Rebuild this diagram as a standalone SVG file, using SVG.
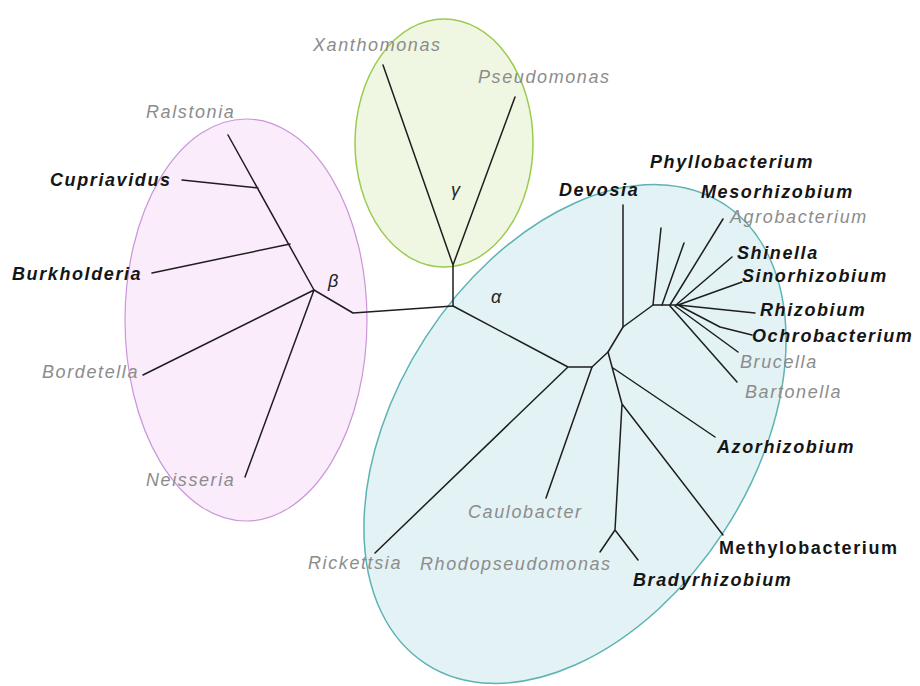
<svg xmlns="http://www.w3.org/2000/svg" width="920" height="686" viewBox="0 0 920 686">
<style>
.bg{fill:#ffffff}
.cl-a{fill:#e3f2f4;stroke:#5db3b3;stroke-width:1.5}
.cl-b{fill:#fbecfc;stroke:#c996d8;stroke-width:1.2}
.cl-g{fill:#eff6e2;stroke:#9acb4e;stroke-width:1.5}
.br{fill:none;stroke:#1e1e1e;stroke-width:1.5;stroke-linejoin:round;stroke-linecap:round}
text{font-family:"Liberation Sans",Arial,sans-serif;font-size:18px;letter-spacing:1.6px}
.k{font-weight:bold;font-style:italic;fill:#151515}
.ku{font-weight:bold;fill:#151515}
.g{font-style:italic;fill:#8c8c8c}
.gr{font-style:italic;fill:#222;font-size:18px;letter-spacing:0}
</style>
<rect class="bg" width="920" height="686"/>
<g id="clusters">
<ellipse id="beta-cluster" class="cl-b" cx="246" cy="320" rx="121" ry="201"/>
<ellipse id="gamma-cluster" class="cl-g" cx="444" cy="143" rx="89" ry="124"/>
<ellipse id="alpha-cluster" class="cl-a" cx="0" cy="0" rx="274" ry="178" transform="translate(575 434) rotate(-57)"/>
</g>
<g id="connectors" class="br">
<path d="M453 306 L453 265 M453 265 L383 65 M453 265 L515 97"/>
<path d="M453 306 L353 313 L314 290"/>
<path d="M314 290 L228 135 M290 244 L152 273 M258 188 L182 180 M314 290 L143 375 M314 290 L245 477"/>
<path d="M453 306 L568 367 L592 367 M568 367 L375 553 M592 367 L546 498"/>
<path d="M592 367 L608 352 L623 327 L623 205"/>
<path d="M623 327 L653 305 L678 305"/>
<path d="M653 305 L661 228 M662 305 L684 243 M670 305 L723 219 M676 305 L732 257 M678 305 L742 282 M678 305 L755 313 M678 305 L720 327 L752 335 M675 306 L738 352 M670 306 L737 382"/>
<path d="M608 352 L622 404 L615 530 M613 368 L715 437 M622 404 L723 535 M615 530 L600 552 M615 530 L638 560"/>
</g>
<g id="label-alpha"><text class="gr" x="491" y="303">α</text></g>
<g id="label-beta"><text class="gr" x="328" y="287">β</text></g>
<g id="label-gamma"><text class="gr" x="451" y="196">γ</text></g>
<g id="n-xanthomonas"><text class="g" x="313" y="51">Xanthomonas</text></g>
<g id="n-pseudomonas"><text class="g" x="478" y="83">Pseudomonas</text></g>
<g id="n-ralstonia"><text class="g" x="146" y="118">Ralstonia</text></g>
<g id="n-cupriavidus"><text class="k" x="50" y="186">Cupriavidus</text></g>
<g id="n-burkholderia"><text class="k" x="12" y="280">Burkholderia</text></g>
<g id="n-bordetella"><text class="g" x="42" y="378">Bordetella</text></g>
<g id="n-neisseria"><text class="g" x="146" y="486">Neisseria</text></g>
<g id="n-devosia"><text class="k" x="559" y="196">Devosia</text></g>
<g id="n-phyllobacterium"><text class="k" x="650" y="168">Phyllobacterium</text></g>
<g id="n-mesorhizobium"><text class="k" x="701" y="198">Mesorhizobium</text></g>
<g id="n-agrobacterium"><text class="g" x="730" y="223">Agrobacterium</text></g>
<g id="n-shinella"><text class="k" x="737" y="259">Shinella</text></g>
<g id="n-sinorhizobium"><text class="k" x="742" y="282">Sinorhizobium</text></g>
<g id="n-rhizobium"><text class="k" x="760" y="316">Rhizobium</text></g>
<g id="n-ochrobacterium"><text class="k" x="752" y="342">Ochrobacterium</text></g>
<g id="n-brucella"><text class="g" x="740" y="368">Brucella</text></g>
<g id="n-bartonella"><text class="g" x="745" y="398">Bartonella</text></g>
<g id="n-azorhizobium"><text class="k" x="717" y="453">Azorhizobium</text></g>
<g id="n-caulobacter"><text class="g" x="468" y="518">Caulobacter</text></g>
<g id="n-rickettsia"><text class="g" x="308" y="569">Rickettsia</text></g>
<g id="n-rhodopseudomonas"><text class="g" x="420" y="570">Rhodopseudomonas</text></g>
<g id="n-methylobacterium"><text class="ku" x="719" y="554">Methylobacterium</text></g>
<g id="n-bradyrhizobium"><text class="k" x="633" y="586">Bradyrhizobium</text></g>
</svg>
